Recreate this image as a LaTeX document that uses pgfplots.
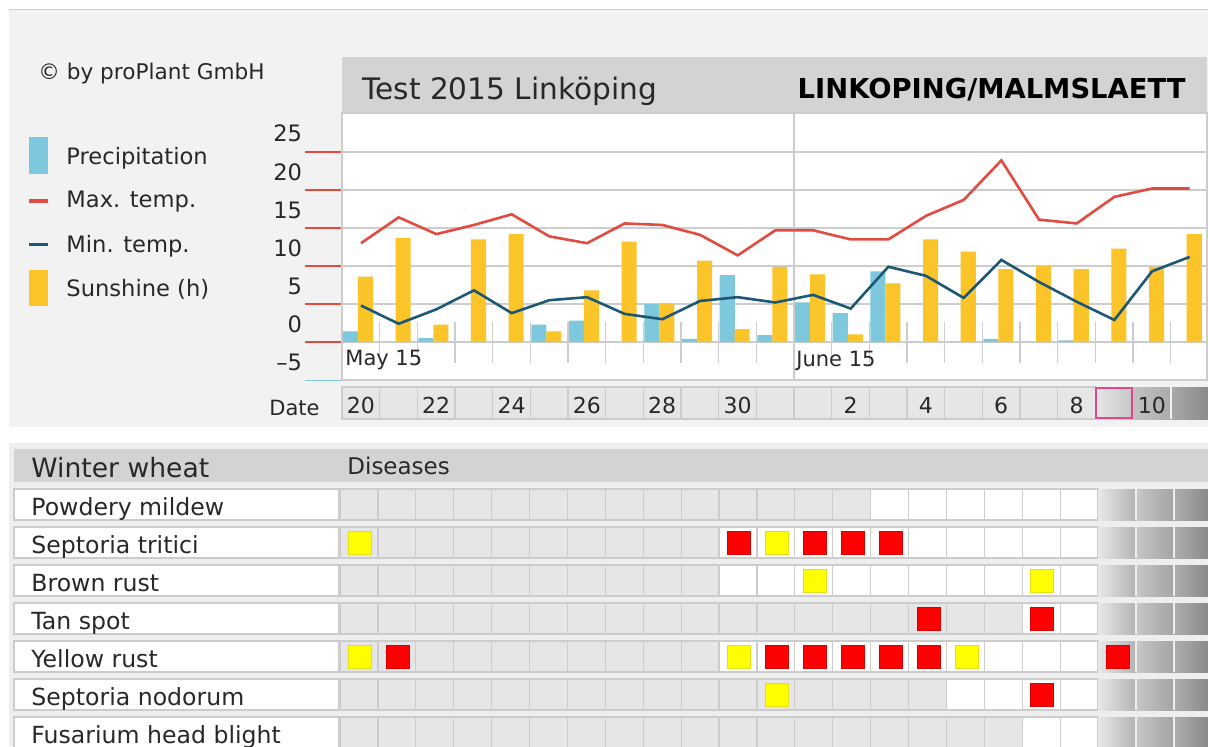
\documentclass[border=0pt]{standalone}
\usepackage{pgfplots}
\pgfplotsset{compat=1.18}
\usepackage{pgfplotstable}
\usepackage{fontspec}
\setmainfont{DejaVu Sans}
\definecolor{precip}{RGB}{126,200,222}
\definecolor{sun}{RGB}{251,197,42}
\definecolor{tmaxc}{RGB}{226,76,64}
\definecolor{tminc}{RGB}{28,88,118}
\definecolor{panel}{RGB}{242,242,242}
\definecolor{titlebar}{RGB}{211,211,211}
\definecolor{gridc}{RGB}{205,205,205}
\definecolor{cellg}{RGB}{230,230,230}
\definecolor{cellb}{RGB}{204,204,204}
\definecolor{txt}{RGB}{40,40,40}
\definecolor{pinkb}{RGB}{226,70,140}
\definecolor{redsq}{RGB}{255,0,0}
\definecolor{yelsq}{RGB}{255,255,0}
\definecolor{tablebg}{RGB}{238,238,238}

\pgfplotstableread{
d p s tmax tmin
0 1.4 8.6 13.0 4.8
1 0 13.7 16.4 2.4
2 0.5 2.3 14.2 4.3
3 0 13.5 15.4 6.8
4 0 14.2 16.8 3.8
5 2.3 1.4 13.9 5.5
6 2.8 6.8 13.0 5.9
7 0 13.2 15.6 3.7
8 5.0 5.1 15.4 3.0
9 0.4 10.7 14.1 5.4
10 8.8 1.7 11.4 5.9
11 0.9 9.9 14.7 5.2
12 5.2 8.9 14.7 6.2
13 3.8 1.0 13.5 4.4
14 9.3 7.7 13.5 9.9
15 0 13.5 16.6 8.7
16 0 11.9 18.7 5.8
17 0.4 9.6 23.9 10.8
18 0 10.0 16.1 7.9
19 0.2 9.6 15.6 5.3
20 0 12.3 19.1 2.9
21 0 9.9 20.2 9.3
22 0 14.2 20.2 11.2
}\weather

\pgfplotstableread{
c r
10 1
12 1
13 1
14 1
15 3
18 3
1 4
11 4
12 4
13 4
14 4
15 4
20 4
18 5
}\redtab

\pgfplotstableread{
c r
0 1
11 1
12 2
18 2
0 4
10 4
16 4
11 5
}\yeltab

\begin{document}
\begin{tikzpicture}
\begin{scope}[x=0.5pt,y=-0.5pt]
\useasboundingbox (0,0) rectangle (1208,746);
\fill[white] (0,0) rectangle (1208,746);
% top panel
\fill[panel] (9,9) rectangle (1208,427);
\draw[gridc, line width=0.5pt] (9,9.5) -- (1208,9.5);
\fill[titlebar] (342,57) rectangle (1207,113);
\node[anchor=base west, inner sep=0pt, text=txt, font=\fontsize{14.8}{16}\selectfont] at (362,99.3) {Test 2015 Linköping};
\node[anchor=base east, inner sep=0pt, text=black, font=\fontsize{13.7}{16}\selectfont\bfseries] at (1186,98.3) {LINKOPING/MALMSLAETT};
\node[anchor=base west, inner sep=0pt, text=txt, font=\fontsize{10.8}{12}\selectfont] at (38,79) {© by proPlant GmbH};
% legend
\fill[precip] (29,137) rectangle (48,174);
\draw[tmaxc, line width=1.75pt] (29,201) -- (48,201);
\draw[tminc, line width=1.75pt] (29,244.5) -- (48,244.5);
\fill[sun] (29,270) rectangle (48,306);
\begin{scope}[every node/.style={anchor=base west, inner sep=0pt, text=txt, font=\fontsize{11.3}{12}\selectfont}]
\node at (66,164.5) {Precipitation};
\node at (66,207.5) {Max. temp.};
\node at (66,252) {Min. temp.};
\node at (66,296.5) {Sunshine (h)};
\end{scope}
% axis tick marks
\foreach \yy in {152,190,228,266,304,342} \draw[tmaxc, line width=0.9pt] (305,\yy) -- (342,\yy);
\draw[precip, line width=0.9pt] (305,380.5) -- (342,380.5);
% date row
\foreach \c in {0,...,19} \filldraw[fill=cellg, draw=cellb, line width=0.6pt] ({342+37.67*\c},387) rectangle ++(37.67,32);
\shade[left color=cellg, right color=black!22] ({342+37.67*20},387) rectangle ++(37.67,32);
\draw[pinkb, line width=1pt] ({342+37.67*20+1},388) rectangle ++(35.67,30);
\shade[left color=black!24, right color=black!33] ({342+37.67*21},387) rectangle ++(37.67,32);
\shade[left color=black!34, right color=black!46] ({342+37.67*22},387) rectangle (1208,419);
\draw[panel, line width=0.8pt] ({342+37.67*22},387) -- ++(0,32);
\node[anchor=base east, inner sep=0pt, text=txt, font=\fontsize{10.5}{12}\selectfont] at (320,415) {Date};
% table
\fill[tablebg] (9,443) rectangle (1208,746);
\fill[titlebar] (14,449) rectangle (1208,482);
\node[anchor=base west, inner sep=0pt, text=txt, font=\fontsize{13.3}{15}\selectfont] at (31,477.7) {Winter wheat};
\node[anchor=base west, inner sep=0pt, text=txt, font=\fontsize{11.5}{13}\selectfont] at (347,474) {Diseases};
\foreach \r/\w/\lab in {0/14/Powdery mildew,1/10/Septoria tritici,2/10/Brown rust,3/18/Tan spot,4/10/Yellow rust,5/16/Septoria nodorum,6/18/Fusarium head blight}{
  \foreach \c in {0,...,19}{
    \ifnum\c<\w\relax\def\cc{cellg}\else\def\cc{white}\fi
    \filldraw[fill=\cc, draw=cellb, line width=0.6pt] ({340+37.9*\c},{489+38*\r}) rectangle ++(37.9,31);
  }
  \shade[left color=black!9, right color=black!30] ({340+37.9*20},{489+38*\r}) rectangle ++(37.9,31);
  \shade[left color=black!22, right color=black!36] ({340+37.9*21},{489+38*\r}) rectangle ++(37.9,31);
  \shade[left color=black!32, right color=black!46] ({340+37.9*22},{489+38*\r}) rectangle (1208,{520+38*\r});
  \draw[tablebg, line width=0.8pt] ({340+37.9*21},{489+38*\r}) -- ++(0,31);
  \draw[tablebg, line width=0.8pt] ({340+37.9*22},{489+38*\r}) -- ++(0,31);
  \filldraw[fill=white, draw=cellb, line width=0.6pt] (14,{489+38*\r}) rectangle (339,{520+38*\r});
  \node[anchor=base west, inner sep=0pt, text=txt, font=\fontsize{11.8}{13}\selectfont] at (31,{515+38*\r}) {\lab};
}
\end{scope}

\begin{axis}[
  at={(171pt,-190pt)}, anchor=south west,
  scale only axis, width=432.5pt, height=133.5pt,
  xmin=0, xmax=22.963, ymin=-5, ymax=30.13,
  axis background/.style={fill=white},
  axis line style={draw=gridc, line width=0.6pt},
  ytick={-5,0,5,10,15,20,25}, yticklabels={–5,0,5,10,15,20,25},
  ymajorgrids, major grid style={draw=gridc, line width=0.7pt},
  xtick={0.5,2.5,4.5,6.5,8.5,10.5,13.5,15.5,17.5,19.5,21.5},
  xticklabels={20,22,24,26,28,30,2,4,6,8,10},
  major tick length=0pt,
  yticklabel style={anchor=base east, inner sep=0pt, xshift=-19.75pt, yshift=5pt, font=\fontsize{11.3}{12}\selectfont, text=txt},
  xticklabel style={anchor=base, inner sep=0pt, yshift=-16.65pt, font=\fontsize{11}{12}\selectfont, text=txt},
  /pgf/number format/assume math mode=true,
]
\pgfplotsinvokeforeach{1,...,11,13,14,...,22}{\draw[gridc, line width=0.6pt] (axis cs:#1,2.63) -- (axis cs:#1,-2.76);}
\draw[gridc, line width=0.7pt] (axis cs:12,-5) -- (axis cs:12,30.13);
\addplot[ybar, bar width=0.4, bar shift=0pt, fill=precip, draw=none] table[x expr=\thisrow{d}+0.226, y=p] {\weather};
\addplot[ybar, bar width=0.4, bar shift=0pt, fill=sun, draw=none] table[x expr=\thisrow{d}+0.624, y=s] {\weather};
\addplot[tmaxc, line width=1.3pt, mark=none] table[x expr=\thisrow{d}+0.504, y=tmax] {\weather};
\addplot[tminc, line width=1.3pt, mark=none] table[x expr=\thisrow{d}+0.504, y=tmin] {\weather};
\end{axis}

\begin{scope}[x=0.5pt,y=-0.5pt]
\node[anchor=base west, inner sep=0pt, text=txt, font=\fontsize{10.5}{12}\selectfont] at (345,365.5) {May 15};
\node[anchor=base west, inner sep=0pt, text=txt, font=\fontsize{10.5}{12}\selectfont] at (796,366) {June 15};
\end{scope}

\begin{axis}[
  at={(170pt,-373pt)}, anchor=south west,
  scale only axis, width=434pt, height=129.5pt,
  xmin=0, xmax=22.902, ymin=-6.3553, ymax=0.4605,
  hide axis, clip=false,
]
\addplot[only marks, mark=square*, mark size=5.75pt, mark options={fill=redsq, draw=red!85!black, line width=0.4pt}] table[x expr=\thisrow{c}+0.53, y expr=-\thisrow{r}] {\redtab};
\addplot[only marks, mark=square*, mark size=5.75pt, mark options={fill=yelsq, draw=yellow!90!black, line width=0.4pt}] table[x expr=\thisrow{c}+0.53, y expr=-\thisrow{r}] {\yeltab};
\end{axis}
\end{tikzpicture}
\end{document}
